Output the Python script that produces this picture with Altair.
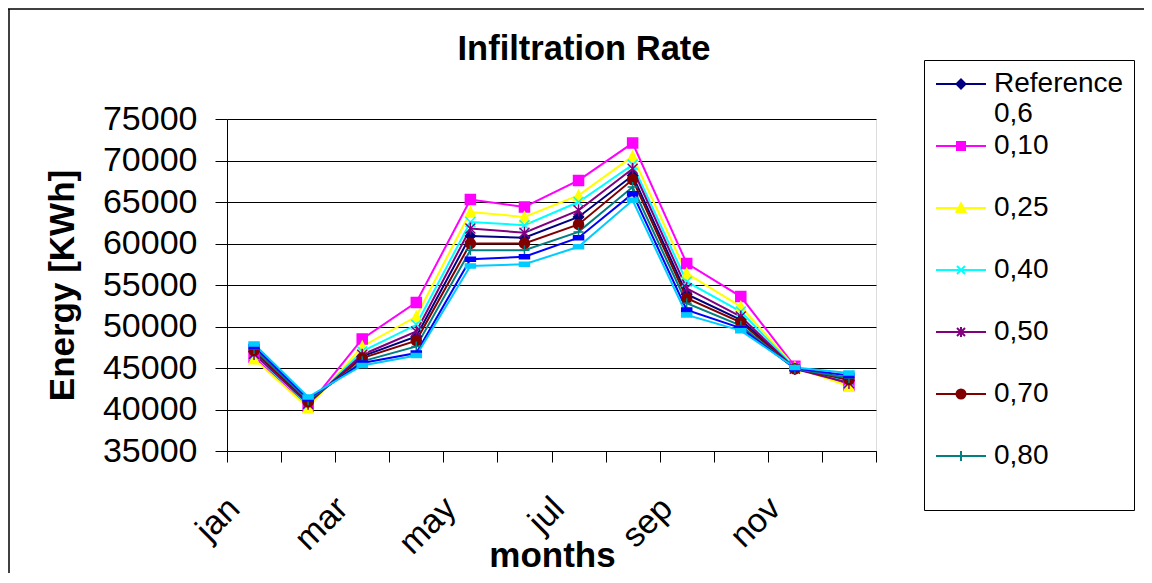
import altair as alt
import pandas as pd

months = ["jan", "feb", "mar", "apr", "may", "jun", "jul", "aug", "sep", "oct", "nov", "dec"]
shown_months = ["jan", "mar", "may", "jul", "sep", "nov"]

series_names = ["Reference 0,6", "0,10", "0,25", "0,40", "0,50", "0,70", "0,80", "0,90", "1,00"]

reference = [47000, 40900, 46400, 48800, 60900, 60700, 63200, 68200, 53900, 50800, 44900, 43500]
r010 = [46300, 40400, 48500, 52900, 65300, 64400, 67600, 72100, 57600, 53600, 45200, 42900]
r025 = [46100, 40200, 47600, 51200, 63800, 63200, 65800, 70500, 56400, 52400, 45100, 42800]
r040 = [46600, 40600, 47000, 50200, 62600, 62200, 65000, 69500, 55400, 51800, 45000, 43300]
r050 = [46700, 40700, 46600, 49400, 61800, 61300, 64000, 69000, 54600, 51200, 44900, 43200]
r070 = [47100, 40900, 46200, 48300, 60000, 60000, 62300, 67700, 53400, 50500, 44900, 43600]
r080 = [47300, 41100, 45800, 47600, 59200, 59200, 61400, 66800, 52800, 50100, 44900, 43800]
r090 = [47600, 41300, 45600, 46800, 58100, 58400, 60700, 66000, 52000, 49800, 44950, 44100]
r100 = [47900, 41500, 45300, 46500, 57300, 57500, 59600, 65200, 51400, 49500, 45050, 44400]

all_values = [reference, r010, r025, r040, r050, r070, r080, r090, r100]

colors = ["#000080", "#FF00FF", "#FFFF00", "#00FFFF", "#800080",
          "#800000", "#008080", "#0000FF", "#00CCFF"]

marker_shapes = [
    "M0,-1L1,0L0,1L-1,0Z",
    "M-1,-1L1,-1L1,1L-1,1Z",
    "M0,-1L1,1L-1,1Z",
    "M-1,-1L1,1M-1,1L1,-1",
    "M-1,-1L1,1M-1,1L1,-1M0,-1.2L0,1.2",
    "circle",
    "M-1,0L1,0M0,-1L0,1",
    "M-1,-0.4L1,-0.4L1,0.4L-1,0.4Z",
    "M-1,-0.4L1,-0.4L1,0.4L-1,0.4Z",
]
# legend symbols: a short line segment with the marker on it
legend_shapes = [
    "M-2.4,0L7.6,0M2.6,-0.9L3.5,0L2.6,0.9L1.7,0Z",
    "M-2.4,0L7.6,0M1.8,-0.8L3.4,-0.8L3.4,0.8L1.8,0.8Z",
    "M-2.4,0L7.6,0M2.6,-0.9L3.5,0.8L1.7,0.8Z",
    "M-2.4,0L7.6,0M1.8,-0.8L3.4,0.8M1.8,0.8L3.4,-0.8",
    "M-2.4,0L7.6,0M1.8,-0.8L3.4,0.8M1.8,0.8L3.4,-0.8M2.6,-1L2.6,1",
    "M-2.4,0L7.6,0M3.5,0A0.9,0.9,0,1,1,1.7,0A0.9,0.9,0,1,1,3.5,0Z",
    "M-2.4,0L7.6,0M2.6,-1L2.6,1",
    "M-2.4,0L7.6,0M1.8,-0.35L3.4,-0.35L3.4,0.35L1.8,0.35Z",
    "M-2.4,0L7.6,0M1.8,-0.35L3.4,-0.35L3.4,0.35L1.8,0.35Z",
]

rows = []
for name, vals in zip(series_names, all_values):
    for i, (m, v) in enumerate(zip(months, vals)):
        rows.append({"series": name, "month": m, "idx": i, "energy": v})
df = pd.DataFrame(rows)

FONT = "Liberation Sans"

label_expr = "indexof(" + str(shown_months) + ", datum.value) >= 0 ? datum.value : ''"

x_enc = alt.X(
    "month:N",
    sort=months,
    bandPosition=0.5,
    scale=alt.Scale(type="band", domain=months, paddingInner=0, paddingOuter=0),
    axis=alt.Axis(
        title="months",
        titleFontSize=35,
        titleFontWeight="bold",
        titleColor="black",
        titleFont=FONT,
        titleX=325,
        titleY=115,
        titleAlign="center",
        titleBaseline="alphabetic",
        labelAngle=-45,
        labelAlign="right",
        labelBaseline="middle",
        labelFontSize=34,
        labelFont=FONT,
        labelColor="black",
        labelPadding=41,
        labelOffset=-20,
        labelOverlap=False,
        labelExpr=label_expr,
        tickSize=11,
        tickBand="extent",
        tickColor="black",
        domainColor="black",
        grid=False,
    ),
)

y_enc = alt.Y(
    "energy:Q",
    scale=alt.Scale(domain=[35000, 75000], nice=False, zero=False),
    axis=alt.Axis(
        title="Energy [KWh]",
        titleFontSize=35,
        titleFontWeight="bold",
        titleColor="black",
        titleFont=FONT,
        titleX=-165,
        titleY=166,
        titleAngle=-90,
        titleAlign="center",
        titleBaseline="middle",
        values=list(range(35000, 75001, 5000)),
        format="d",
        labelFontSize=34,
        labelFont=FONT,
        labelColor="black",
        labelPadding=18,
        tickSize=12,
        tickColor="black",
        domainColor="black",
        grid=True,
        gridColor="black",
        gridWidth=1,
    ),
)

color_scale = alt.Scale(domain=series_names, range=colors)

lines = alt.Chart(df).mark_line(strokeWidth=2).encode(
    x=x_enc,
    y=y_enc,
    color=alt.Color("series:N", scale=color_scale, legend=None),
    order=alt.Order("idx:Q"),
)

points = alt.Chart(df).mark_point(filled=True, opacity=1, size=100, strokeWidth=1.5).encode(
    x=x_enc,
    y=y_enc,
    fill=alt.Fill("series:N", scale=color_scale, legend=None),
    stroke=alt.Stroke("series:N", scale=color_scale, legend=None),
    shape=alt.Shape("series:N", scale=alt.Scale(domain=series_names, range=marker_shapes), legend=None),
)

leg = alt.Legend(
    title=None,
    orient="none",
    legendX=697,
    legendY=-59,
    padding=10,
    strokeColor="black",
    fillColor="white",
    labelFontSize=28,
    labelFont=FONT,
    labelColor="black",
    labelLimit=400,
    labelOffset=32,
    labelExpr="datum.label == 'Reference 0,6' ? ['Reference', '0,6'] : [datum.label, ' ']",
    symbolSize=100,
    symbolStrokeWidth=2,
    rowPadding=4,
    values=series_names[:7],
)

legend_layer = alt.Chart(df).transform_filter("false").mark_point(
    filled=True, opacity=1, size=100, strokeWidth=2
).encode(
    x=x_enc,
    y=y_enc,
    fill=alt.Fill("series:N", scale=color_scale, legend=leg),
    stroke=alt.Stroke("series:N", scale=color_scale, legend=leg),
    shape=alt.Shape("series:N", scale=alt.Scale(domain=series_names, range=legend_shapes), legend=leg),
)

frame_df = pd.DataFrame({"k": [0]})
frame_top = alt.Chart(frame_df).mark_rule(stroke="black", strokeWidth=1.5).encode(
    x=alt.value(-219), x2=alt.value(1100), y=alt.value(-110)
)
frame_left = alt.Chart(frame_df).mark_rule(stroke="black", strokeWidth=1.5).encode(
    x=alt.value(-218), y=alt.value(-110), y2=alt.value(700)
)

title = alt.Chart(pd.DataFrame({"t": ["Infiltration Rate"]})).mark_text(
    font=FONT, fontSize=34.5, fontWeight="bold", color="black",
    align="center", baseline="alphabetic"
).encode(
    text="t:N", x=alt.value(357), y=alt.value(-59)
)

chart = alt.layer(frame_top, frame_left, lines, points, legend_layer, title).resolve_scale(
    fill="independent", stroke="independent", shape="independent"
).resolve_legend(
    fill="independent", stroke="independent", shape="independent"
).properties(
    width=649,
    height=332,
    autosize=alt.AutoSizeParams(type="none"),
    padding={"left": 219, "top": 111, "right": 268, "bottom": 122},
).configure_view(
    fill="#C0C0C0", stroke="#808080", strokeWidth=2
).configure(background="white")

chart.save("out.html", embed_options={"renderer": "svg", "actions": False})
